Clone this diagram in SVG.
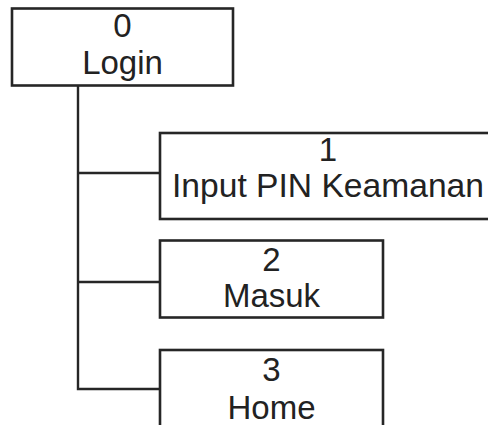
<svg xmlns="http://www.w3.org/2000/svg" width="488" height="425" viewBox="0 0 488 425">
  <style>
    .box { fill: #ffffff; stroke: #262626; stroke-width: 2.6; }
    .wire { fill: none; stroke: #262626; stroke-width: 2.4; }
    .lbl { font-family: "Liberation Sans", Arial, sans-serif; font-size: 33px; fill: #222222; text-anchor: middle; }
  </style>
  <rect width="488" height="425" fill="#ffffff"/>

  <!-- tree connectors -->
  <g id="connectors">
    <path class="wire" d="M78,85 V389 H160"/>
    <path class="wire" d="M78,173 H160"/>
    <path class="wire" d="M78,282 H160"/>
  </g>

  <g id="node-0">
    <rect class="box" x="12" y="8.5" width="221" height="77"/>
    <text class="lbl" x="122.5" y="37">0</text>
    <text class="lbl" x="122.5" y="74">Login</text>
  </g>

  <g id="node-1">
    <rect class="box" x="160" y="133" width="340" height="86"/>
    <text class="lbl" x="328" y="161">1</text>
    <text class="lbl" x="328" y="197" textLength="312" lengthAdjust="spacingAndGlyphs">Input PIN Keamanan</text>
  </g>

  <g id="node-2">
    <rect class="box" x="160" y="240.5" width="223" height="77"/>
    <text class="lbl" x="271.5" y="271">2</text>
    <text class="lbl" x="271.5" y="307">Masuk</text>
  </g>

  <g id="node-3">
    <rect class="box" x="160" y="350" width="223" height="90"/>
    <text class="lbl" x="271.5" y="380.5">3</text>
    <text class="lbl" x="271.5" y="419">Home</text>
  </g>
</svg>
